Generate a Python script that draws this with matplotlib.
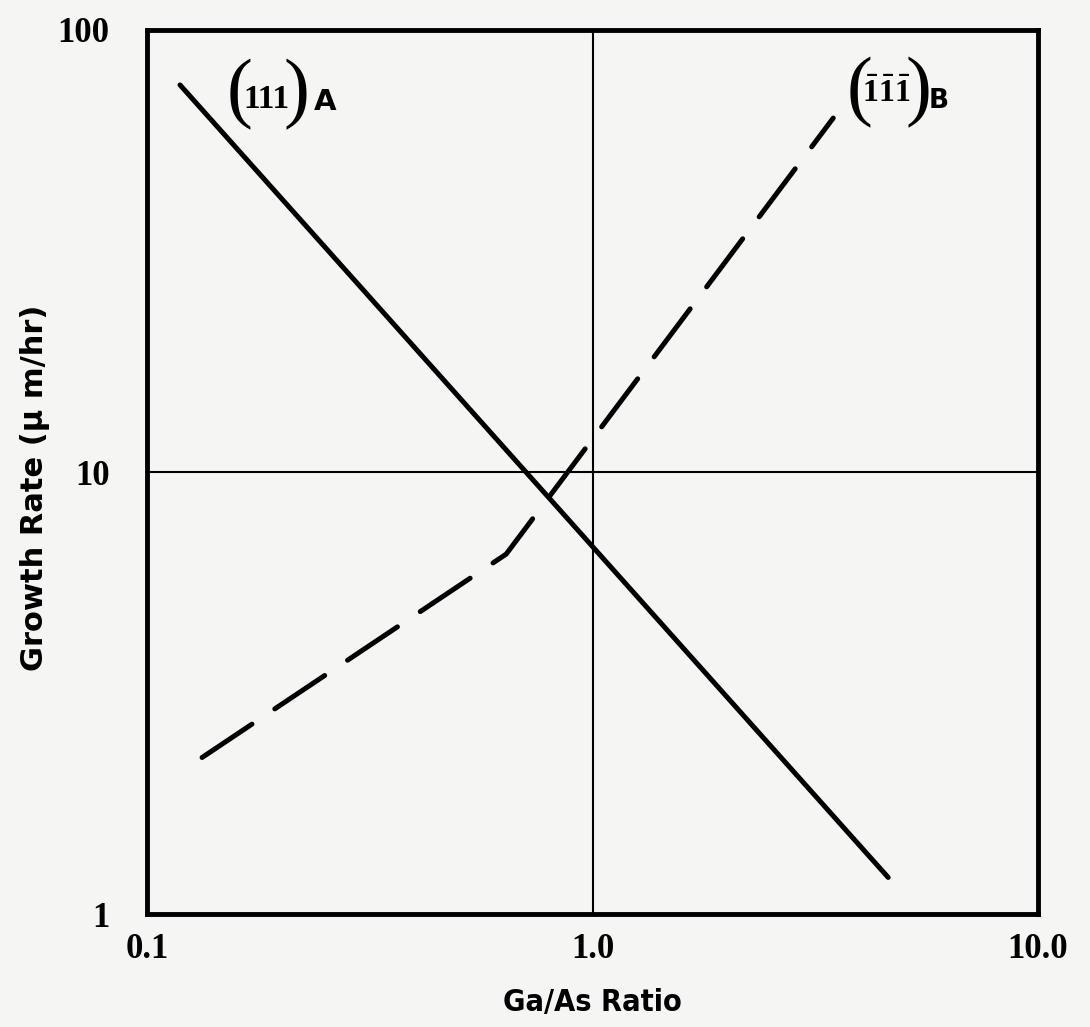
import matplotlib.pyplot as plt

# (111) A face - solid line
ratio_a = [0.1186, 4.61]
rate_a = [75.1, 1.21]

# (-1-1-1) B face - dashed line with a kink
ratio_b = [0.1329, 0.640, 3.47]
rate_b = [2.26, 6.52, 63.2]

x_ticks = [0.1, 1.0, 10.0]
x_ticklabels = ['0.1', '1.0', '10.0']
y_ticks = [1, 10, 100]
y_ticklabels = ['1', '10', '100']

plt.rcParams['mathtext.fontset'] = 'custom'
plt.rcParams['mathtext.bf'] = 'Liberation Serif:bold'
plt.rcParams['mathtext.rm'] = 'Liberation Serif'

bg = '#f5f5f3'
num_font = 'Liberation Serif'
lab_font = 'DejaVu Sans'

fig = plt.figure(figsize=(10.9, 10.27), dpi=100, facecolor=bg)
ax = fig.add_axes([0.1349, 0.110, 0.8174, 0.8608], facecolor=bg)

ax.set_xscale('log')
ax.set_yscale('log')
ax.set_xlim(0.1, 10)
ax.set_ylim(1, 100)

# only two grid lines: at 1.0 and at 10
ax.axvline(1.0, color='black', lw=1.5, zorder=1)
ax.axhline(10, color='black', lw=1.5, zorder=1)

ax.plot(ratio_a, rate_a, color='black', lw=3.6, solid_capstyle='round', zorder=3)
ax.plot(ratio_b, rate_b, color='black', lw=3.6, dashes=(12, 5.5),
        dash_capstyle='round', zorder=3)

for s in ax.spines.values():
    s.set_linewidth(3.5)

ax.minorticks_off()
ax.tick_params(length=0)
ax.set_xticks(x_ticks)
ax.set_xticklabels(x_ticklabels, fontfamily=num_font, fontweight='bold', fontsize=25)
ax.set_yticks(y_ticks)
ax.set_yticklabels(y_ticklabels, fontfamily=num_font, fontweight='bold', fontsize=25)
ax.tick_params(axis='x', pad=14)
ax.tick_params(axis='y', pad=27)

ax.set_xlabel('Ga/As Ratio', fontfamily=lab_font, fontweight='bold',
              fontstretch='condensed', fontsize=22)
ax.set_ylabel('Growth Rate (\u03bc m/hr)', fontfamily=lab_font, fontweight='bold',
              fontsize=22)
ax.xaxis.set_label_coords(0.5, -0.084)
ax.yaxis.set_label_coords(-0.109, 0.482)

# curve labels
tr = ax.transAxes
ax.text(0.089, 0.927, '(', transform=tr, fontfamily=num_font, fontsize=56, va='center', ha='left')
ax.text(0.1085, 0.921, '111', transform=tr, fontfamily=num_font, fontweight='bold',
        fontsize=24, va='center', ha='left')
ax.text(0.153, 0.927, ')', transform=tr, fontfamily=num_font, fontsize=56, va='center', ha='left')
ax.text(0.187, 0.918, 'A', transform=tr, fontfamily=lab_font, fontweight='bold',
        fontsize=21, va='center', ha='left')

ax.text(0.785, 0.929, '(', transform=tr, fontfamily=num_font, fontsize=56, va='center', ha='left')
ax.text(0.803, 0.928, r'$\mathbf{\bar{1}\bar{1}\bar{1}}$', transform=tr,
        fontsize=23, va='center', ha='left')
ax.text(0.851, 0.929, ')', transform=tr, fontfamily=num_font, fontsize=56, va='center', ha='left')
ax.text(0.877, 0.920, 'B', transform=tr, fontfamily=lab_font, fontweight='bold',
        fontsize=19, va='center', ha='left')

fig.savefig('out.png', dpi=100, facecolor=bg)
